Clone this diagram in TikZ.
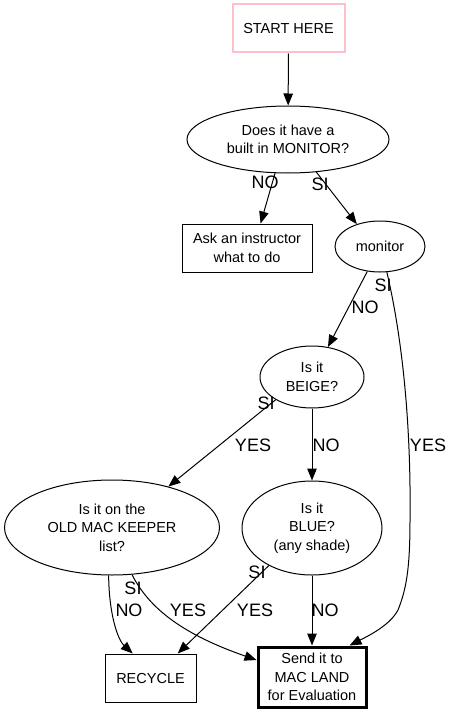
\documentclass[tikz,border=0pt]{standalone}
\usepackage{fontspec}
\setmainfont{Liberation Sans}
\usetikzlibrary{shapes.geometric,arrows.meta}
\definecolor{startpink}{RGB}{255,192,203}
\tikzset{
  base/.style={inner sep=0pt, align=center, font=\fontsize{14.5}{18.5}\selectfont, line width=1pt},
  oval/.style={base, ellipse, draw},
  box/.style={base, rectangle, draw},
  arr/.style={line width=1pt, -{Triangle[length=12pt,width=9.5pt]}},
  lbl/.style={inner sep=0pt, font=\fontsize{18}{20}\selectfont}
}
\begin{document}
\begin{tikzpicture}[x=1pt,y=-1pt]
\useasboundingbox (0,0) rectangle (452,717);
% nodes
\node[box, draw=startpink, line width=2pt, minimum width=112pt, minimum height=48pt] (start) at (288.5,28.5) {START HERE};
\node[oval, minimum width=202pt, minimum height=67pt] (q1) at (288,139.5) {Does it have a\\built in MONITOR?};
\node[box, minimum width=130pt, minimum height=48pt] (ask) at (247,248) {Ask an instructor\\what to do};
\node[oval, minimum width=90pt, minimum height=51pt] (mon) at (380,246.5) {monitor};
\node[oval, minimum width=104pt, minimum height=62pt] (beige) at (312,377) {Is it\\BEIGE?};
\node[oval, minimum width=215pt, minimum height=95pt] (old) at (112,527.5) {Is it on the\\OLD MAC KEEPER\\list?};
\node[oval, minimum width=140pt, minimum height=94pt] (blue) at (312,528) {Is it\\BLUE?\\(any shade)};
\node[box, minimum width=91pt, minimum height=48pt] (recycle) at (150.5,678) {RECYCLE};
\node[box, line width=3pt, minimum width=108pt, minimum height=60pt] (send) at (312,677) {Send it to\\MAC LAND\\for Evaluation};
% edges
\draw[arr] (start) -- (q1);
\draw[arr] (q1.-111) -- (ask.61);
\draw[arr] (q1.-49) -- (mon.136);
\draw[arr] (mon.-117) -- (beige.62);
\draw[arr] (mon.-75) .. controls (405,350) and (411,440) .. (410,520)
  .. controls (410,570) and (406,590) .. (398,610)
  .. controls (390,625) and (370,635) .. (send.40);
\draw[arr] (beige.-148) -- (old.36);
\draw[arr] (beige) -- (blue);
\draw[arr] (old.-94) .. controls (109,615) and (118,640) .. (recycle.126);
\draw[arr] (old.-67) .. controls (150,610) and (185,635) .. (send.163);
\draw[arr] (blue.-139) -- (recycle.42);
\draw[arr] (blue) -- (send);
% edge labels
\node[lbl] (l1) at (265,182) {NO};
\node[lbl] (l2) at (320,184) {SI};
\node[lbl] (l3) at (365,307) {NO};
\node[lbl] (l4) at (383,285) {SI};
\node[lbl] (l5) at (428,445) {YES};
\node[lbl] (l6) at (266,403) {SI};
\node[lbl] (l7) at (253,445) {YES};
\node[lbl] (l8) at (326,445) {NO};
\node[lbl] (l9) at (133,588) {SI};
\node[lbl] (l10) at (129,610) {NO};
\node[lbl] (l11) at (188,610) {YES};
\node[lbl] (l12) at (257,572) {SI};
\node[lbl] (l13) at (255,610) {YES};
\node[lbl] (l14) at (325,610) {NO};
\end{tikzpicture}
\end{document}
